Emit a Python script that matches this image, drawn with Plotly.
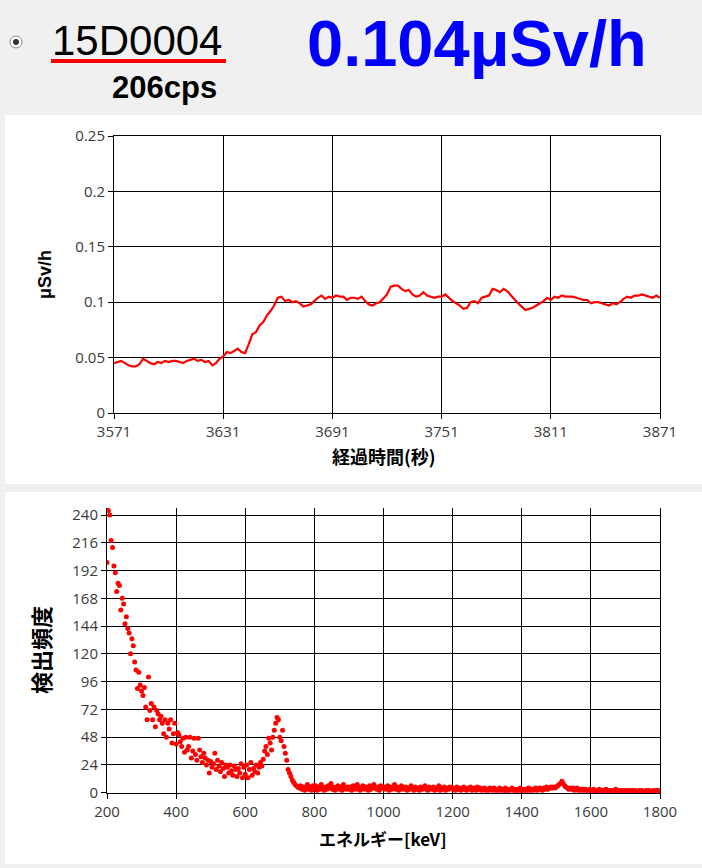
import plotly.graph_objects as go

# ---------------- data ----------------
station_id = "15D0004"
count_rate = "206cps"
dose_rate_text = "0.104μSv/h"

time_start, time_end, time_step = 3571, 3871, 2
dose_rate = [
    0.045, 0.046, 0.047, 0.045, 0.043, 0.042, 0.042, 0.044, 0.049, 0.047,
    0.045, 0.044, 0.046, 0.045, 0.047, 0.046, 0.047, 0.047, 0.046, 0.045,
    0.047, 0.048, 0.049, 0.047, 0.048, 0.046, 0.047, 0.043, 0.045, 0.049,
    0.051, 0.055, 0.054, 0.056, 0.058, 0.055, 0.054, 0.062, 0.071, 0.073,
    0.079, 0.082, 0.088, 0.092, 0.097, 0.104, 0.105, 0.101, 0.102, 0.100,
    0.101, 0.099, 0.096, 0.097, 0.098, 0.101, 0.104, 0.106, 0.103, 0.105,
    0.104, 0.106, 0.105, 0.105, 0.102, 0.104, 0.104, 0.103, 0.105, 0.101,
    0.098, 0.097, 0.099, 0.100, 0.104, 0.107, 0.114, 0.115, 0.115, 0.112,
    0.110, 0.111, 0.107, 0.105, 0.106, 0.109, 0.106, 0.105, 0.104, 0.105,
    0.105, 0.107, 0.104, 0.101, 0.099, 0.097, 0.094, 0.095, 0.100, 0.101,
    0.099, 0.104, 0.105, 0.106, 0.112, 0.111, 0.109, 0.112, 0.110, 0.106,
    0.103, 0.099, 0.096, 0.093, 0.094, 0.095, 0.097, 0.099, 0.101, 0.104,
    0.102, 0.105, 0.104, 0.106, 0.105, 0.105, 0.105, 0.104, 0.103, 0.102,
    0.102, 0.099, 0.100, 0.100, 0.099, 0.098, 0.097, 0.099, 0.098, 0.100,
    0.103, 0.105, 0.104, 0.106, 0.106, 0.107, 0.106, 0.105, 0.104, 0.106,
    0.104,
]
times = list(range(time_start, time_end + 1, time_step))

energy_start, energy_end, energy_step = 200, 1800, 4
counts = [
    # 200-296
    199, 244, 240, 218, 212, 196, 190, 174, 181, 179, 158, 168, 163, 146, 152,
    142, 138, 120, 133, 127, 113, 106, 90, 104, 93,
    # 300-396
    88, 84, 91, 74, 63, 100, 71, 77, 63, 74, 57, 71, 68, 63, 66,
    60, 51, 63, 48, 60, 55, 63, 43, 51, 60,
    # 400-496
    42, 52, 50, 44, 40, 47, 35, 48, 37, 40, 48, 30, 36, 47, 33,
    28, 47, 37, 31, 26, 34, 30, 24, 28, 17,
    # 500-596
    27, 22, 25, 34, 20, 28, 23, 18, 26, 21, 14, 24, 22, 17, 24,
    19, 15, 23, 20, 14, 21, 17, 25, 13, 22,
    # 600-696
    16, 24, 13, 20, 26, 15, 21, 18, 24, 17, 22, 26, 23, 29, 36,
    40, 33, 47, 43, 37, 48, 54, 60, 65, 63,
    # 700-796
    48, 45, 54, 40, 34, 28, 20, 17, 14, 11, 9, 7, 6, 5, 4,
    6, 3, 5, 2, 4, 7, 3, 5, 2, 6,
    # 800-896
    4, 6, 2, 5, 3, 7, 4, 2, 5, 3, 6, 4, 8, 3, 5, 2, 4, 6, 3, 5, 2, 7, 4, 3, 5,
    # 900-996
    3, 5, 2, 6, 4, 3, 7, 5, 2, 4, 6, 3, 5, 4, 2, 6, 3, 5, 7, 4, 3, 5, 2, 6, 4,
    # 1000-1096
    5, 3, 4, 6, 2, 5, 3, 4, 7, 3, 5, 2, 4, 6, 3, 4, 5, 2, 4, 3, 6, 4, 2, 5, 3,
    # 1100-1196
    4, 2, 5, 3, 4, 6, 3, 2, 5, 4, 3, 5, 2, 4, 3, 6, 2, 4, 3, 5, 2, 4, 3, 5, 4,
    # 1200-1296
    3, 4, 2, 5, 3, 4, 2, 3, 5, 3, 2, 4, 3, 5, 2, 3, 4, 2, 5, 3, 4, 2, 3, 4, 2,
    # 1300-1396
    3, 2, 4, 3, 2, 4, 3, 1, 3, 4, 2, 3, 2, 4, 1, 3, 2, 3, 4, 2, 3, 1, 3, 2, 4,
    # 1400-1496
    2, 3, 1, 3, 2, 4, 2, 3, 2, 3, 4, 2, 3, 4, 3, 2, 4, 3, 5, 3, 4, 5, 4, 5, 4,
    # 1500-1596
    5, 6, 7, 8, 10, 8, 6, 5, 4, 3, 4, 3, 4, 2, 3, 4, 2, 3, 2, 3, 2, 3, 2, 2, 3,
    # 1600-1696
    2, 1, 3, 2, 1, 2, 3, 1, 2, 2, 1, 3, 2, 1, 2, 2, 1, 2, 3, 1, 2, 1, 2, 2, 1,
    # 1700-1796
    2, 1, 2, 1, 2, 2, 1, 2, 1, 1, 2, 1, 2, 1, 1, 2, 1, 2, 1, 1, 2, 1, 2, 2, 1,
    # 1800
    2,
]
energies = list(range(energy_start, energy_end + 1, energy_step))

time_ticks = [3571, 3631, 3691, 3751, 3811, 3871]
dose_ticks = [0, 0.05, 0.1, 0.15, 0.2, 0.25]
dose_tick_labels = ["0", "0.05", "0.1", "0.15", "0.2", "0.25"]
energy_ticks = list(range(200, 1801, 200))
count_ticks = list(range(0, 241, 24))

# ---------------- layout helpers ----------------
W, H = 702, 868
def fx(px):
    return px / W
def fy(py):
    return 1 - py / H

RED = "#ff0000"
tick_font = dict(family="Open Sans, DejaVu Sans, sans-serif", size=15, color="#3a3a3a")
jp_font = "Noto Sans CJK JP, sans-serif"

fig = go.Figure()

fig.add_trace(go.Scatter(
    x=times, y=dose_rate, mode="lines",
    line=dict(color=RED, width=2.2), xaxis="x", yaxis="y",
    showlegend=False, hoverinfo="skip"))

fig.add_trace(go.Scatter(
    x=energies, y=counts, mode="markers",
    marker=dict(color=RED, size=5, line=dict(width=0)), xaxis="x2", yaxis="y2",
    showlegend=False, hoverinfo="skip"))

axis_common = dict(
    showgrid=True, gridcolor="#000000", gridwidth=1,
    showline=True, linecolor="#000000", linewidth=1,
    ticks="outside", ticklen=5, tickwidth=1, tickcolor="#000000",
    zeroline=False, tickfont=tick_font, fixedrange=True, automargin=False,
)

fig.update_layout(
    template="none",
    width=W, height=H,
    margin=dict(l=0, r=0, t=0, b=0, pad=0, autoexpand=False),
    paper_bgcolor="#f0f0f0",
    plot_bgcolor="#ffffff",
    showlegend=False,
    xaxis=dict(axis_common, domain=[fx(114), fx(660)], range=[3571, 3871],
               tickmode="array", tickvals=time_ticks, anchor="y", mirror=True),
    yaxis=dict(axis_common, domain=[fy(413), fy(136)], range=[0, 0.25],
               tickmode="array", tickvals=dose_ticks, ticktext=dose_tick_labels,
               anchor="x", mirror=True),
    xaxis2=dict(axis_common, domain=[fx(107), fx(660)], range=[200, 1800],
                tickmode="array", tickvals=energy_ticks, anchor="y2"),
    yaxis2=dict(axis_common, domain=[fy(792.7), fy(507.5)], range=[0, 246.5],
                tickmode="array", tickvals=count_ticks, anchor="x2", mirror=True),
)

shapes = [
    # white panels
    dict(type="rect", xref="paper", yref="paper", x0=fx(5), x1=fx(702),
         y0=fy(484), y1=fy(115), fillcolor="#ffffff", line=dict(width=0), layer="below"),
    dict(type="rect", xref="paper", yref="paper", x0=fx(5), x1=fx(702),
         y0=fy(864), y1=fy(492), fillcolor="#ffffff", line=dict(width=0), layer="below"),
    # red underline under station id
    dict(type="line", xref="paper", yref="paper", x0=fx(51), x1=fx(226),
         y0=fy(61), y1=fy(61), line=dict(color=RED, width=4)),
    # radio button
    dict(type="circle", xref="paper", yref="paper", x0=fx(10), x1=fx(22),
         y0=fy(48), y1=fy(36), fillcolor="#ffffff", line=dict(color="#8a8a8a", width=1)),
    dict(type="circle", xref="paper", yref="paper", x0=fx(13), x1=fx(19),
         y0=fy(45), y1=fy(39), fillcolor="#333333", line=dict(width=0)),
]
fig.update_layout(shapes=shapes)

annotations = [
    dict(text=station_id, x=fx(50), y=fy(41), xanchor="left", yanchor="middle",
         font=dict(family="Liberation Sans, Arial, sans-serif", size=42, color="#000000")),
    dict(text="<b>" + count_rate + "</b>", x=fx(219), y=fy(87), xanchor="right", yanchor="middle",
         font=dict(family="Liberation Sans, Arial, sans-serif", size=31, color="#000000")),
    dict(text="<b>" + dose_rate_text + "</b>", x=fx(305), y=fy(43), xanchor="left", yanchor="middle",
         font=dict(family="Liberation Sans, Arial, sans-serif", size=65, color="#0000ff")),
    dict(text="<b>μSv/h</b>", x=fx(45), y=fy(274), xanchor="center", yanchor="middle",
         textangle=-90, font=dict(family="Liberation Sans, Arial, sans-serif", size=18, color="#000000")),
    dict(text="<b>経過時間(秒)</b>", x=fx(384), y=fy(456), xanchor="center", yanchor="middle",
         font=dict(family=jp_font, size=18, color="#000000")),
    dict(text="<b>検出頻度</b>", x=fx(40), y=fy(650), xanchor="center", yanchor="middle",
         textangle=-90, font=dict(family=jp_font, size=22, color="#000000")),
    dict(text="<b>エネルギー[keV]</b>", x=fx(383), y=fy(838), xanchor="center", yanchor="middle",
         font=dict(family=jp_font, size=17, color="#000000")),
]
for a in annotations:
    a.update(xref="paper", yref="paper", showarrow=False)
fig.update_layout(annotations=annotations)

fig.write_html("out.html")
